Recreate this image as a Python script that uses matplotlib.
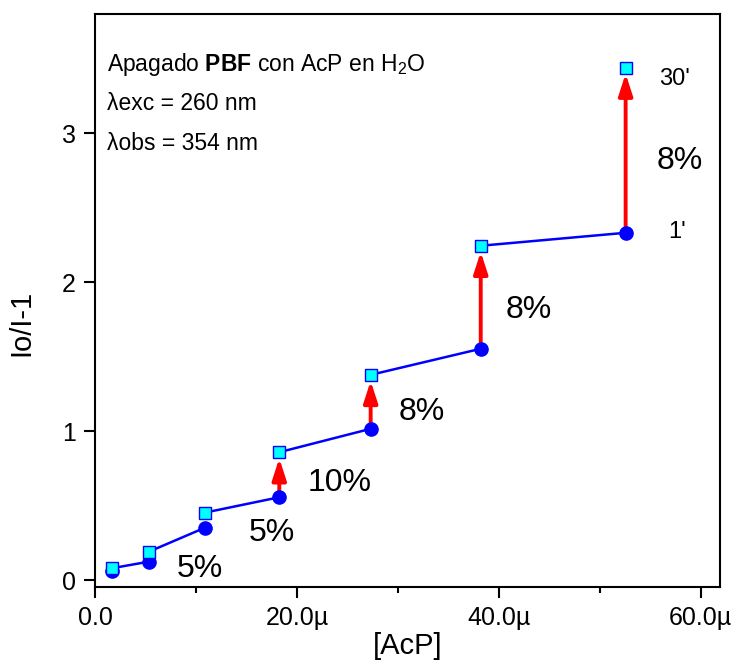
import numpy as np
import matplotlib
matplotlib.use('Agg')
import matplotlib.pyplot as plt

plt.rcParams['font.family'] = ['Liberation Sans', 'DejaVu Sans']
plt.rcParams['mathtext.fontset'] = 'custom'
plt.rcParams['mathtext.rm'] = 'Liberation Sans'
plt.rcParams['mathtext.bf'] = 'Liberation Sans:bold'

# [AcP] in micromolar
acp = [1.7, 5.35, 10.9, 18.25, 27.3, 38.2, 52.55]
i_1min = [0.064, 0.126, 0.354, 0.558, 1.017, 1.554, 2.332]    # circles (1')
i_30min = [0.082, 0.193, 0.455, 0.860, 1.379, 2.245, 3.44]    # squares (30')

# percent labels (text, x, y baseline) in data units
pct_labels = ['5%', '5%', '10%', '8%', '8%', '8%']
pct_x = [10.41, 17.55, 24.19, 32.37, 42.98, 57.9]
pct_y = [0.023, 0.265, 0.601, 1.077, 1.762, 2.76]

xticks = [0, 20, 40, 60]
xticklabels = ['0.0', '20.0µ', '40.0µ', '60.0µ']

fig = plt.figure(figsize=(7.34, 6.64), dpi=100)
ax = fig.add_axes([0.1294, 0.116, 0.8516, 0.863])

# blue connecting lines: each 30' point to the next 1' point
for i in range(len(acp) - 1):
    ax.plot([acp[i], acp[i + 1]], [i_30min[i], i_1min[i + 1]],
            color='blue', lw=1.8, zorder=2)

# red arrows from 1' to 30' for the last four points
for i in range(3, len(acp)):
    ax.annotate('', xy=(acp[i], i_30min[i]), xytext=(acp[i], i_1min[i]),
                arrowprops=dict(arrowstyle='-|>,head_length=1.3,head_width=0.42',
                                mutation_scale=10, color='red', lw=2.8,
                                shrinkA=4.5, shrinkB=4.3),
                zorder=3)

ax.plot(acp, i_1min, 'o', color='blue', ms=9.5, ls='none', zorder=4)
ax.plot(acp, i_30min, 's', mfc='cyan', mec='blue', mew=1.0, ms=8.5,
        ls='none', zorder=5)

for t, x, y in zip(pct_labels, pct_x, pct_y):
    ax.text(x, y, t, fontsize=23, ha='center', va='baseline')

ax.text(57.4, 3.326, "30'", fontsize=17, ha='center', va='baseline')
ax.text(57.6, 2.30, "1'", fontsize=17, ha='center', va='baseline')

ax.text(1.15, 3.415, r'Apagado $\mathbf{PBF}$ con AcP en H$_2$O', fontsize=16.5,
        ha='left', va='baseline')
ax.text(1.15, 3.158, 'λexc = 260 nm', fontsize=16.5, ha='left', va='baseline')
ax.text(1.15, 2.886, 'λobs = 354 nm', fontsize=16.5, ha='left', va='baseline')

ax.set_xlim(0, 61.9)
ax.set_ylim(-0.044, 3.80)
ax.set_xticks(xticks)
ax.set_xticklabels(xticklabels)
ax.set_xticks([10, 30, 50], minor=True)
ax.set_yticks([0, 1, 2, 3])

ax.tick_params(which='major', direction='out', length=8, width=1.5,
               labelsize=18, pad=6)
ax.tick_params(which='minor', direction='out', length=4, width=1.5)
for s in ax.spines.values():
    s.set_linewidth(1.5)

ax.set_xlabel('[AcP]', fontsize=21, labelpad=1)
ax.set_ylabel('Io/I-1', fontsize=21)
ax.yaxis.set_label_coords(-0.096, 0.46)

fig.savefig('out.png', dpi=100)
